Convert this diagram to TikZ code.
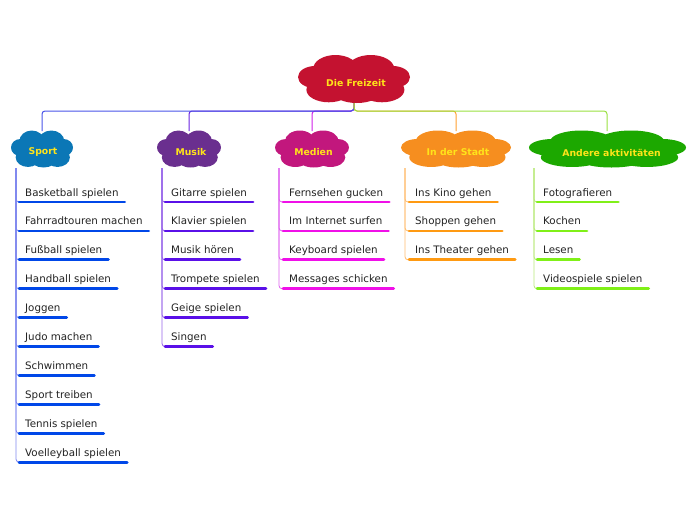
\documentclass[tikz,border=0pt]{standalone}
\usepackage{fontspec}
\setmainfont{DejaVu Sans}
\definecolor{cFrei}{HTML}{C41230}
\definecolor{cSpo}{HTML}{0B77B6}
\definecolor{cMus}{HTML}{6A2F8F}
\definecolor{cMed}{HTML}{C2177D}
\definecolor{cSta}{HTML}{F68E1F}
\definecolor{cAnd}{HTML}{1CA800}
\definecolor{titleY}{HTML}{FFE41A}
\definecolor{lSpo}{HTML}{4A55E8}
\definecolor{lMus}{HTML}{6A22E0}
\definecolor{lMed}{HTML}{D020E8}
\definecolor{lSta}{HTML}{FFA030}
\definecolor{lAnd}{HTML}{99E040}
\definecolor{uSpo}{HTML}{0047E8}
\definecolor{uMus}{HTML}{5A10E8}
\definecolor{uMed}{HTML}{F010E8}
\definecolor{uSta}{HTML}{FF9A12}
\definecolor{uAnd}{HTML}{80F018}
\definecolor{txt}{HTML}{222222}
% cloud: centre x, centre y, half width, half height, colour
\newcommand\mycloud[5]{%
  \begin{scope}[shift={(#1,#2)}, x=#3pt, y=-#4pt]
    \fill[#5] (0,0) ellipse [x radius=0.75, y radius=0.62]
      (-0.33,-0.42) ellipse [x radius=0.40, y radius=0.58]
      (0.30,-0.42) ellipse [x radius=0.42, y radius=0.58]
      (-0.70,-0.08) ellipse [x radius=0.30, y radius=0.46]
      (0.70,-0.08) ellipse [x radius=0.30, y radius=0.46]
      (-0.45,0.45) ellipse [x radius=0.40, y radius=0.52]
      (0.05,0.55) ellipse [x radius=0.42, y radius=0.45]
      (0.50,0.45) ellipse [x radius=0.40, y radius=0.52];
  \end{scope}}
\begin{document}
\begin{tikzpicture}[x=1pt,y=-1pt,
  title/.style={draw=none, text=titleY, font=\fontsize{9.3}{11}\bfseries\selectfont, inner sep=0pt},
  item/.style={anchor=base west, inner xsep=6pt, inner ysep=0pt, font=\fontsize{10.3}{12}\selectfont, text=txt},
  link/.style={line width=1pt, rounded corners=3pt},
  branch/.style={line width=0.8pt, rounded corners=3pt},
  uline/.style={line width=2.8pt, line cap=round}]
\useasboundingbox (0,0) rectangle (696,520);
% clouds
\mycloud{354}{79}{56}{24}{cFrei}
\mycloud{42}{149}{31}{18.5}{cSpo}
\mycloud{189}{149}{32}{18.5}{cMus}
\mycloud{312}{149}{37}{18.5}{cMed}
\mycloud{456}{149}{55}{18.5}{cSta}
\mycloud{607.5}{149}{78.5}{18.5}{cAnd}
\node[title, minimum width=112pt, minimum height=48pt] (free) at (356,83) {Die Freizeit};
\node[title, minimum width=62pt, minimum height=37pt] (sport) at (43,152.5) {Sport};
\node[title, minimum width=64pt, minimum height=37pt] (musik) at (191,152.5) {Musik};
\node[title, minimum width=74pt, minimum height=37pt] (medien) at (313.5,152.5) {Medien};
\node[title, minimum width=110pt, minimum height=37pt] (stadt) at (458,152.5) {In der Stadt};
\node[title, minimum width=157pt, minimum height=37pt] (andere) at (611.5,152.5) {Andere aktivitäten};
% links
\coordinate (hub) at (354,103);
\foreach \n/\c/\x in {medien/lMed/312, musik/lMus/189, sport/lSpo/42, stadt/lSta/456, andere/lAnd/607}{
  \coordinate (\n T) at (\x,131);
  \draw[link, \c] (hub) -- ++(0,8) -| (\n T);
}
% item lists
\coordinate (spT) at (16,168);
\coordinate (muT) at (162,168);
\coordinate (meT) at (279,168);
\coordinate (stT) at (405,168);
\coordinate (anT) at (534,168);
\foreach \t [count=\i] in {Basketball spielen, Fahrradtouren machen, Fußball spielen, Handball spielen, Joggen, Judo machen, Schwimmen, Sport treiben, Tennis spielen, Voelleyball spielen}
  \node[item] (sp\i) at (19,{196+28.9*(\i-1)}) {\t};
\foreach \t [count=\i] in {Gitarre spielen, Klavier spielen, Musik hören, Trompete spielen, Geige spielen, Singen}
  \node[item] (mu\i) at (165,{196+28.9*(\i-1)}) {\t};
\foreach \t [count=\i] in {Fernsehen gucken, Im Internet surfen, Keyboard spielen, Messages schicken}
  \node[item] (me\i) at (283,{196+28.9*(\i-1)}) {\t};
\foreach \t [count=\i] in {Ins Kino gehen, Shoppen gehen, Ins Theater gehen}
  \node[item] (st\i) at (409,{196+28.9*(\i-1)}) {\t};
\foreach \t [count=\i] in {Fotografieren, Kochen, Lesen, Videospiele spielen}
  \node[item] (an\i) at (537,{196+28.9*(\i-1)}) {\t};
\foreach \p/\m/\lc/\uc in {sp/10/lSpo/uSpo, mu/6/lMus/uMus, me/4/lMed/uMed, st/3/lSta/uSta, an/4/lAnd/uAnd}{
  \foreach \i in {1,...,\m}{
    \draw[branch, \lc!70!white] (\p T) |- ([yshift=-6pt]\p\i.base west);
    \draw[uline, \uc] ([yshift=-6pt]\p\i.base west) -- ([yshift=-6pt]\p\i.base east);
  }
}
\end{tikzpicture}
\end{document}
